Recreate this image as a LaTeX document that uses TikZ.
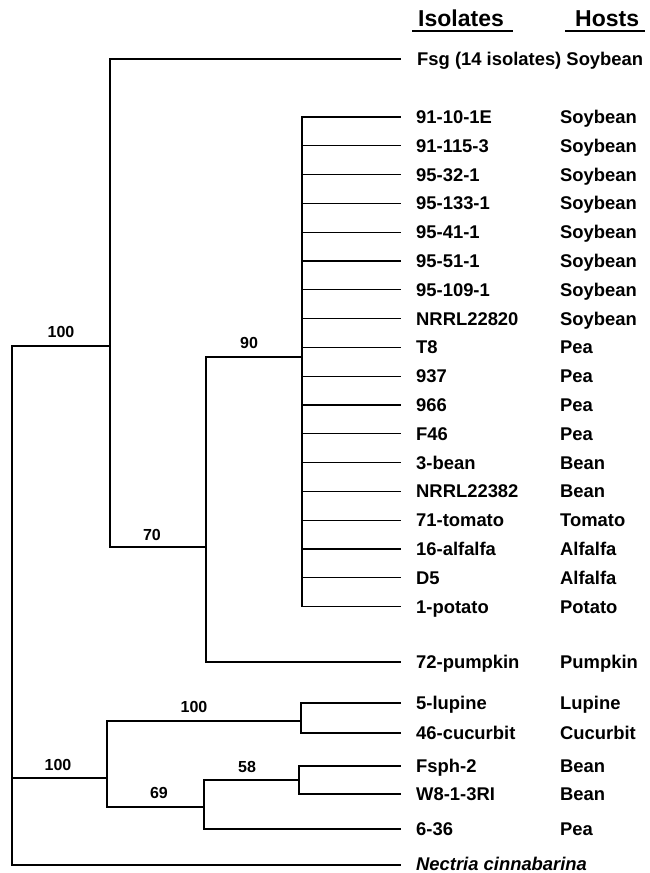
\documentclass[tikz,border=0pt]{standalone}
\usepackage{fontspec}
\setmainfont{Liberation Sans}
\begin{document}
\begin{tikzpicture}[x=1pt,y=-1pt,
  br/.style={line width=1.2pt, line cap=rect},
  lab/.style={font=\fontsize{18.4}{20}\selectfont\bfseries, inner sep=0pt, anchor=base west},
  hdr/.style={font=\fontsize{23}{25}\selectfont\bfseries, inner sep=0pt, anchor=base west},
  bs/.style={font=\fontsize{16}{18}\selectfont\bfseries, inner sep=0pt}]
\useasboundingbox (0,0) rectangle (649,873);

% headers
\node[hdr] (hiso) at (418,26) {Isolates};
\node[hdr] (hhost) at (575,26) {Hosts};
\draw[line width=1.3pt] (412,31) -- (513,31);
\draw[line width=1.3pt] (565,31) -- (645,31);

% leaves
\coordinate (t0) at (400,59);
\node[lab] (l0) at (417,65.5) {Fsg (14 isolates) Soybean};
\foreach \k/\y/\iso/\host in {
  1/117/91-10-1E/Soybean, 2/145.8/91-115-3/Soybean, 3/174.6/95-32-1/Soybean,
  4/203.4/95-133-1/Soybean, 5/232.2/95-41-1/Soybean, 6/261/95-51-1/Soybean,
  7/289.8/95-109-1/Soybean, 8/318.6/NRRL22820/Soybean, 9/347.4/T8/Pea,
  10/376.2/937/Pea, 11/405/966/Pea, 12/433.8/F46/Pea, 13/462.6/3-bean/Bean,
  14/491.4/NRRL22382/Bean, 15/520.2/71-tomato/Tomato, 16/549/16-alfalfa/Alfalfa,
  17/577.8/D5/Alfalfa, 18/606.6/1-potato/Potato, 19/662/72-pumpkin/Pumpkin,
  20/703/5-lupine/Lupine, 21/733/46-cucurbit/Cucurbit, 22/766/Fsph-2/Bean,
  23/794/W8-1-3RI/Bean, 24/829/6-36/Pea}{
  \coordinate (t\k) at (400,\y);
  \node[lab] (l\k) at (416,\y+6.5) {\iso};
  \node[lab] (h\k) at (560,\y+6.5) {\host};
}
\coordinate (t25) at (400,865);
\node[lab] (l25) at (416,870) {\itshape Nectria cinnabarina};

% internal nodes
\coordinate (nR) at (12,600);
\coordinate (nA) at (110,346);
\coordinate (nB) at (206,547);
\coordinate (nC) at (302,357);
\coordinate (nD) at (107,778);
\coordinate (nE) at (301,721);
\coordinate (nF) at (204,807);
\coordinate (nG) at (299,780);

% branches
\foreach \k in {1,...,18}{
  \draw[br] (t\k) -- (t\k -| nC);
}
\draw[br] (t1 -| nC) -- (t18 -| nC);
\draw[br] (nC) -| (nB) |- (t19);
\draw[br] (t0) -| (nA) |- (nB);
\draw[br] (nA) -| (nR) |- (t25);
\draw[br] (nD) -- (nD -| nR);
\draw[br] (t20) -| (nE) |- (t21);
\draw[br] (nE) -| (nD) |- (nF);
\draw[br] (t22) -| (nG) |- (t23);
\draw[br] (nG) -| (nF) |- (t24);

% bootstrap values
\node[bs] (bA) at (61,332) {100};
\node[bs] (bC) at (249,343) {90};
\node[bs] (bB) at (152,535) {70};
\node[bs] (bE) at (194,707) {100};
\node[bs] (bD) at (58,765) {100};
\node[bs] (bG) at (247,767) {58};
\node[bs] (bF) at (159,793) {69};
\end{tikzpicture}
\end{document}
